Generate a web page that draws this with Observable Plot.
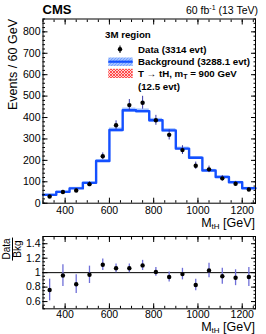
<!DOCTYPE html>
<html><head><meta charset="utf-8">
<script src="https://cdn.jsdelivr.net/npm/d3@7"></script>
<script src="https://cdn.jsdelivr.net/npm/@observablehq/plot@0.6"></script>
<style>
body{margin:0;background:#fff;}
#c{position:relative;width:266px;height:334px;overflow:hidden;font-family:"Liberation Sans",Arial,Helvetica,sans-serif;color:#000;}
#c svg{position:absolute;left:0;}
.a{position:absolute;white-space:nowrap;line-height:1;}
.lg{font-weight:bold;font-size:9.7px;}
</style></head><body><div id="c"></div>
<script>
// ---- data ----
const binLow = [300,360,420,480,540,600,660,720,780,840,900,960,1020,1080,1140,1200];
const binWidth = 60;
const bkg = [39,53,69,95,197,342,434,430,387,340,255,212,153,122,98,70];
const bkgUnc = [4,4,5,5,7,9,10,10,9,8,7,6,5,5,4,4];
const dataCounts = [31,52,59,89,219,364,458,469,387,319,248,175,158,116,91,64];
const ratio = [0.76,0.96,0.84,0.97,1.11,1.06,1.06,1.10,1.01,0.94,0.98,0.83,1.03,0.95,0.93,0.94];
const ratioErr = [0.15,0.15,0.13,0.12,0.08,0.06,0.06,0.07,0.06,0.07,0.08,0.08,0.10,0.11,0.11,0.13];
const xMajor = [400,600,800,1000,1200];
const yMajor = [0,100,200,300,400,500,600,700,800];
const rMajor = [0.6,0.8,1,1.2,1.4];
const xMinor = d3.range(300,1261,50);
const yMinor = d3.range(0,861,20);
const rMinor = d3.range(0.5,1.501,0.05);

const rows = binLow.map((lo,i)=>({lo, hi: lo+binWidth, c: lo+binWidth/2, b: bkg[i], u: bkgUnc[i], d: dataCounts[i], r: ratio[i], re: ratioErr[i]}));
const stepPts = [...rows.map(r=>({x:r.lo,y:r.b})), {x: rows[rows.length-1].hi, y: rows[rows.length-1].b}];

const FONT = '"Liberation Sans",Arial,Helvetica,sans-serif';
const c = document.getElementById("c");
const fmt = d=>String(d);

function frameAxes(xm, xn, ym, yn, xpad){
  return [
    Plot.frame({stroke:"black", strokeWidth:1}),
    Plot.axisX(xm,{anchor:"bottom",tickSize:-5,tickPadding:xpad,fontSize:10.5,label:null,tickFormat:fmt}),
    Plot.axisX(xn,{anchor:"bottom",tickSize:-2.5,tickFormat:()=>"",label:null}),
    Plot.axisX(xm,{anchor:"top",tickSize:-5,tickFormat:()=>"",label:null}),
    Plot.axisX(xn,{anchor:"top",tickSize:-2.5,tickFormat:()=>"",label:null}),
    Plot.axisY(ym,{anchor:"left",tickSize:-5,tickPadding:7.5,fontSize:10.5,label:null,tickFormat:fmt}),
    Plot.axisY(yn,{anchor:"left",tickSize:-2.5,tickFormat:()=>"",label:null}),
    Plot.axisY(ym,{anchor:"right",tickSize:-5,tickFormat:()=>"",label:null}),
    Plot.axisY(yn,{anchor:"right",tickSize:-2.5,tickFormat:()=>"",label:null})
  ];
}

const topPlot = Plot.plot({
  width:266, height:232, marginLeft:42.5, marginRight:11, marginTop:18.5, marginBottom:29.3,
  style:{fontFamily:FONT, fontSize:"10.5px", background:"transparent", color:"black"},
  x:{domain:[300,1260]}, y:{domain:[0,860]},
  marks:[
    Plot.rect(rows,{x1:"lo",x2:"hi",y1:d=>d.b-d.u,y2:d=>d.b+d.u,fill:"#a4c3ff"}),
    Plot.line(stepPts,{x:"x",y:"y",curve:"step-after",stroke:"#1450ff",strokeWidth:2.4}),
    Plot.ruleX(rows,{x:"c",y1:d=>d.d-d.re*d.b,y2:d=>d.d+d.re*d.b,stroke:"#3a3aa8",strokeWidth:1}),
    Plot.dot(rows,{x:"c",y:"d",r:2.2,fill:"black",stroke:"none"}),
    ...frameAxes(xMajor,xMinor,yMajor,yMinor,8)
  ]
});
topPlot.style.top="0px";
c.appendChild(topPlot);

const ratioPlot = Plot.plot({
  width:266, height:104, marginLeft:42.5, marginRight:11, marginTop:6, marginBottom:25.7,
  style:{fontFamily:FONT, fontSize:"10.5px", background:"transparent", color:"black"},
  x:{domain:[300,1260]}, y:{domain:[0.5,1.5]},
  marks:[
    Plot.ruleY([1],{stroke:"black",strokeWidth:1}),
    Plot.ruleX(rows,{x:"c",y1:d=>d.r-d.re,y2:d=>d.r+d.re,stroke:"#6f6fd8",strokeWidth:1.3}),
    Plot.dot(rows,{x:"c",y:"r",r:2.2,fill:"black",stroke:"none"}),
    ...frameAxes(xMajor,xMinor,rMajor,rMinor,6.5)
  ]
});
ratioPlot.style.top="230px";
c.appendChild(ratioPlot);

function add(html, css, cls){
  const e=document.createElement("div");
  e.className="a"+(cls?" "+cls:"");
  e.innerHTML=html;
  Object.assign(e.style, css);
  c.appendChild(e);
  return e;
}
// header
add("CMS",{left:"42.5px",top:"3px",fontSize:"13px",fontWeight:"bold"});
add('60 fb<sup style="font-size:7px;vertical-align:4px">-1</sup> (13 TeV)',{right:"8px",top:"4px",fontSize:"10.5px"});
// axis titles
const mth = 'M<sub style="font-size:8px;vertical-align:-2px">tH</sub> [GeV]';
add(mth,{right:"11px",top:"217px",fontSize:"12.5px"});
add(mth,{right:"11px",top:"320.5px",fontSize:"12.5px"});
add("Events / 60 GeV",{left:"12.5px",top:"18.5px",fontSize:"12.5px",transformOrigin:"0 0",transform:"rotate(-90deg) translate(-100%,-50%)"});
add('<div style="display:inline-block;text-align:center;font-size:10px;line-height:1"><div style="border-bottom:1px solid #000;padding:0 1px">Data</div><div>Bkg</div></div>',
    {left:"13px",top:"249px",transformOrigin:"0 0",transform:"rotate(-90deg) translate(-50%,-50%)"});
// legend
add("3M region",{left:"105px",top:"30px"},"lg");
add("Data (3314 evt)",{left:"138px",top:"44.5px"},"lg");
add("Background (3288.1 evt)",{left:"138px",top:"57px"},"lg");
add('T &rarr; tH, m<sub style="font-size:7px;vertical-align:-2px">T</sub> = 900 GeV',{left:"138px",top:"68.5px"},"lg");
add("(12.5 evt)",{left:"138px",top:"81.5px"},"lg");
const ns="http://www.w3.org/2000/svg";
const lsv=document.createElementNS(ns,"svg");
lsv.setAttribute("width","266");lsv.setAttribute("height","100");
lsv.style.top="0px";
lsv.innerHTML=`<defs><pattern id="chk" width="3" height="3" patternUnits="userSpaceOnUse"><rect width="3" height="3" fill="#ffd0d0"/><path d="M0,0L3,3M3,0L0,3" stroke="#ff3030" stroke-width="0.8"/></pattern>
<pattern id="htc" width="3" height="3" patternUnits="userSpaceOnUse"><rect width="3" height="3" fill="#a4c3ff"/><path d="M0,3L3,0" stroke="#5f8fff" stroke-width="0.7"/></pattern></defs>
<line x1="120" x2="120" y1="45.5" y2="53" stroke="#000" stroke-width="1"/><circle cx="120" cy="49.3" r="2.2" fill="#000"/>
<rect x="108.3" y="57.5" width="24.4" height="8.5" fill="url(#htc)"/><line x1="108.3" x2="132.7" y1="61.7" y2="61.7" stroke="#1450ff" stroke-width="2.2"/>
<rect x="108.3" y="68.8" width="24.4" height="9.2" fill="url(#chk)"/>`;
c.appendChild(lsv);
</script></body></html>
